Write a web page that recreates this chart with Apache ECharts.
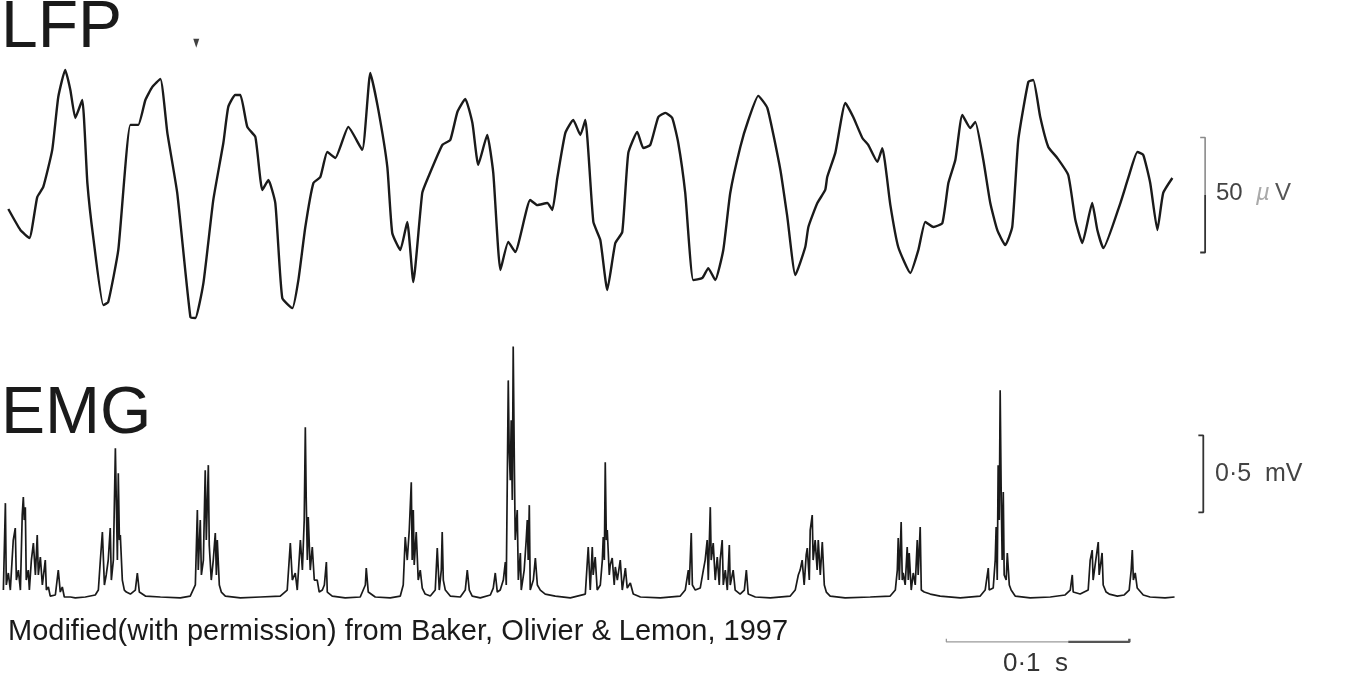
<!DOCTYPE html>
<html>
<head>
<meta charset="utf-8">
<script src="https://cdn.jsdelivr.net/npm/echarts@6/dist/echarts.min.js"></script>
<style>html,body{margin:0;padding:0;background:#fff;}#c{width:1351px;height:692px;}</style>
</head>
<body>
<div id="c"></div>
<script>
// LFP trace: [time (ms), potential (µV)]
var lfpPoints = [[0,-6.1],[6.6,-15.2],[11.5,-18.7],[15.8,-0.9],[19.1,3.5],[24.0,19.6],[27.3,42.6],[31.1,54.4],[33.9,45.7],[36.6,33.5],[40.4,41.3],[43.2,5.2],[46.4,-18.3],[51.9,-47.9],[54.6,-46.5],[60.1,-23.9],[66.7,30.5],[71.0,30.5],[74.9,41.3],[78.7,47.0],[83.1,50.5],[86.9,27.0],[92.3,0.9],[99.5,-53.1],[102.2,-53.5],[106.6,-38.3],[112.0,-2.2],[117.5,22.6],[120.2,38.3],[124.0,43.5],[126.8,43.5],[130.6,29.6],[135.0,25.2],[138.8,2.2],[142.1,6.5],[145.9,-3.5],[149.7,-44.8],[155.2,-49.2],[158.5,-37.0],[162.3,-13.9],[166.7,5.2],[170.5,7.8],[174.3,18.7],[178.7,16.1],[185.8,29.6],[193.4,19.6],[197.8,53.1],[202.2,37.0],[207.1,12.2],[209.8,-16.5],[214.2,-23.9],[218.0,-11.7],[221.3,-37.8],[226.2,0.9],[229.5,7.8],[237.2,21.8],[241.5,23.9],[245.4,36.1],[249.7,41.8],[253.6,31.3],[256.8,13.1],[261.7,26.1],[265.0,9.6],[268.9,-32.6],[273.2,-20.4],[277.0,-24.8],[285.2,-2.2],[289.1,-4.4],[294.5,-3.5],[297.3,-6.5],[300.0,7.4],[304.4,27.0],[308.7,32.6],[312.6,26.1],[315.3,32.6],[319.7,-11.7],[323.5,-19.6],[327.3,-41.3],[331.7,-20.9],[335.5,-16.1],[338.8,18.3],[343.7,27.4],[347.0,20.4],[350.8,21.8],[355.2,33.9],[359.0,35.7],[362.8,33.5],[366.1,22.6],[369.9,0.9],[374.3,-37.0],[379.2,-36.1],[382.5,-31.8],[386.3,-37.0],[390.7,-23.9],[394.5,0.9],[400.0,20.9],[404.4,32.6],[409.8,43.1],[414.8,37.8],[421.9,10.9],[425.7,-9.6],[430.1,-34.8],[435.5,-22.6],[437.2,-13.9],[442.1,-3.5],[446.4,2.2],[447.5,7.8],[451.9,18.3],[457.4,40.0],[461.7,33.9],[466.7,24.8],[469.9,21.8],[474.9,14.4],[477.6,20.4],[482.0,-4.4],[486.3,-22.6],[492.9,-33.9],[497.3,-23.9],[501.1,-11.7],[505.5,-13.9],[510.4,-12.2],[513.7,5.2],[517.5,15.2],[521.3,34.8],[525.7,29.1],[528.4,31.8],[532.8,15.2],[536.6,-3.5],[540.4,-15.2],[544.8,-21.8],[548.6,-13.9],[551.9,23.9],[557.4,49.2],[560.1,50.0],[563.9,33.9],[568.3,20.9],[573.2,16.1],[579.2,8.7],[583.1,-10.9],[586.9,-20.9],[592.3,-3.5],[595.1,-15.2],[598.4,-23.1],[607.7,-3.5],[612.0,7.4],[617.0,18.7],[620.2,17.4],[624.0,5.2],[627.9,-15.2],[631.1,0.9],[636.1,7.4]];

// Rectified EMG trace: [time (ms), amplitude (µV)]
var emgPoints = [[-2.7,45],[-1.6,610],[-1.1,78],[0,156],[1.1,45],[2.7,370],[3.8,448],[4.4,110],[5.5,175],[6.6,45],[7.6,532],[8.2,649],[8.7,500],[9.3,584],[9.8,110],[10.9,175],[11.5,45],[12.6,240],[13.7,350],[14.8,143],[15.8,402],[16.4,143],[17.5,260],[18.6,78],[20.2,240],[20.8,45],[21.9,65],[22.9,6],[25.7,13],[27.3,175],[28.4,32],[29.5,65],[30.6,0],[33.9,0],[36.6,-6],[42.1,0],[47.5,13],[49.2,45],[50.3,240],[51.4,422],[52.5,78],[53.5,143],[54.6,240],[55.7,448],[56.3,110],[57.4,240],[58.5,967],[59.0,630],[59.6,240],[60.1,805],[60.7,370],[61.2,402],[62.3,110],[63.4,45],[64.5,32],[66.7,19],[69.4,45],[70.5,156],[71.6,32],[74.9,6],[83.1,0],[94.0,-6],[99.4,6],[102.2,78],[103.3,565],[103.8,175],[104.9,500],[105.5,143],[106.6,240],[107.6,824],[108.2,370],[109.3,857],[109.8,337],[110.9,110],[112.0,240],[113.1,415],[113.7,143],[114.2,370],[115.3,78],[116.4,32],[118.6,6],[126.8,-6],[137.7,0],[148.6,6],[152.4,45],[154.1,350],[155.2,110],[156.8,156],[157.9,45],[159.6,370],[160.7,175],[161.7,500],[162.3,1103],[162.8,630],[163.4,240],[163.9,519],[165.0,175],[166.1,325],[167.2,110],[168.8,110],[169.9,32],[171.6,45],[172.7,78],[173.8,227],[174.3,32],[177.0,6],[184.1,-6],[192.3,0],[195.1,78],[195.6,188],[196.7,32],[200.5,0],[208.7,-6],[214.2,6],[215.8,78],[216.9,389],[218.0,240],[219.1,435],[220.2,746],[220.7,240],[221.3,565],[221.8,208],[222.9,422],[224.0,110],[225.1,175],[226.2,58],[227.8,19],[230.6,6],[233.3,45],[234.4,318],[235.5,45],[236.6,175],[237.1,422],[237.7,110],[238.8,45],[241.5,6],[247.0,0],[249.7,45],[250.8,175],[251.9,45],[253.5,6],[257.9,-6],[263.4,13],[265.0,58],[266.1,156],[267.2,32],[268.8,45],[270.5,110],[271.6,227],[272.1,78],[273.2,1408],[273.7,954],[274.3,759],[274.8,1149],[275.4,630],[275.9,1629],[276.5,889],[277.0,370],[278.1,565],[278.7,110],[279.8,286],[280.3,45],[281.9,175],[283.0,370],[283.6,500],[284.1,240],[284.7,597],[285.2,45],[286.9,110],[288.0,253],[289.1,78],[290.7,45],[293.4,19],[298.9,6],[307.1,-6],[315.3,19],[316.9,325],[318.0,45],[319.1,325],[319.6,143],[320.7,260],[321.8,45],[323.5,78],[324.6,240],[325.1,389],[325.7,240],[326.2,876],[326.8,370],[327.3,435],[328.4,143],[328.9,208],[330.0,253],[331.1,78],[331.7,195],[332.8,110],[334.4,240],[335.5,45],[337.2,188],[338.2,58],[339.9,91],[341.5,19],[345.4,0],[356.3,-6],[367.2,6],[369.9,45],[371.6,175],[372.1,78],[373.2,415],[373.8,78],[375.4,45],[378.1,58],[379.8,175],[380.8,240],[381.9,370],[382.5,110],[383.6,584],[384.1,240],[385.2,350],[386.3,110],[387.4,260],[388.5,78],[389.0,240],[390.1,370],[390.7,78],[391.8,175],[392.9,45],[394.0,337],[394.5,78],[396.1,175],[397.2,45],[399.9,19],[402.2,45],[403.3,175],[404.3,19],[408.2,0],[416.4,-6],[427.3,6],[430.0,45],[431.7,143],[432.7,175],[433.8,240],[434.9,78],[436.0,273],[436.6,318],[437.7,110],[438.2,435],[439.3,532],[439.8,240],[440.9,370],[442.0,175],[442.6,370],[443.7,143],[444.8,357],[445.9,78],[447.0,32],[449.1,6],[457.3,-6],[471.0,0],[481.9,6],[484.7,45],[485.8,175],[486.3,383],[486.9,110],[487.9,487],[488.5,110],[489.0,156],[490.1,78],[491.2,325],[491.8,110],[492.3,286],[493.4,45],[494.5,156],[495.6,78],[496.7,370],[497.2,143],[498.3,454],[498.9,45],[500.5,32],[503.8,19],[509.2,6],[520.2,-6],[531.1,6],[533.8,45],[535.5,188],[536.0,45],[538.2,58],[539.3,240],[539.8,454],[540.4,110],[540.9,857],[541.5,500],[542.0,1344],[542.6,630],[543.1,240],[543.7,682],[544.2,143],[545.3,110],[545.9,286],[547.0,78],[548.0,45],[550.2,6],[558.4,-6],[569.4,0],[577.5,13],[580.3,45],[581.4,143],[581.9,32],[585.7,19],[590.1,45],[591.2,240],[592.3,305],[592.8,110],[593.9,208],[595.6,357],[596.1,143],[597.2,240],[597.7,286],[598.3,78],[599.9,32],[601.6,19],[606.0,6],[609.8,13],[612.5,45],[613.6,175],[614.2,305],[614.8,110],[615.8,156],[616.9,58],[620.2,13],[623.9,0],[632.1,-6],[637.3,0]];

// Scale bars (data units)
var lfpBarTime = 654;       // ms
var lfpBarTickTime = 651.3; // ms
var lfpBarRange = [-25, 25]; // 50 µV
var emgBarTime = 653;
var emgBarTickTime = 650.3;
var emgBarRange = [550, 1050]; // 0.5 mV = 500 µV
var timeBarRange = [512.6, 612.6]; // 0.1 s = 100 ms
var timeBarSplit = 579.2;
var timeBarLevel = -292;   // µV (below EMG baseline)
var timeBarTick = 20;
var stimMarker = [[102.7, 66]]; // small arrowhead above LFP

var labels = { lfp: 'LFP', emg: 'EMG', lfpScale: '50', lfpUnitMu: 'µ', lfpUnitV: 'V', emgScale: '0·5  mV', timeScale: '0·1  s',
  caption: 'Modified(with permission) from Baker, Olivier & Lemon, 1997' };

var chart = echarts.init(document.getElementById('c'), null, {renderer: 'canvas'});

var xCommon = { type: 'value', min: -4, max: 730, show: false };

var option = {
  animation: false,
  backgroundColor: '#ffffff',
  grid: [
    { left: 1, width: 1343.2, top: 34, height: 299 },
    { left: 1, width: 1343.2, top: 304.7, height: 361.5 }
  ],
  xAxis: [
    Object.assign({ gridIndex: 0 }, xCommon),
    Object.assign({ gridIndex: 1 }, xCommon)
  ],
  yAxis: [
    { gridIndex: 0, type: 'value', min: -60, max: 70, show: false },
    { gridIndex: 1, type: 'value', min: -450, max: 1900, show: false }
  ],
  series: [
    { type: 'line', xAxisIndex: 0, yAxisIndex: 0, data: lfpPoints, showSymbol: false, smooth: 0.15,
      lineStyle: { color: '#1a1a1a', width: 2.4, join: 'round' }, silent: true },
    { type: 'line', xAxisIndex: 1, yAxisIndex: 1, data: emgPoints, showSymbol: false,
      lineStyle: { color: '#1a1a1a', width: 1.7 }, silent: true },
    // LFP scale bar: upper half light, lower half dark
    { type: 'line', xAxisIndex: 0, yAxisIndex: 0, showSymbol: false, silent: true,
      data: [[lfpBarTickTime, lfpBarRange[1]], [lfpBarTime, lfpBarRange[1]], [lfpBarTime, 0]],
      lineStyle: { color: '#8a8a8a', width: 1.6 } },
    { type: 'line', xAxisIndex: 0, yAxisIndex: 0, showSymbol: false, silent: true,
      data: [[lfpBarTime, 0], [lfpBarTime, lfpBarRange[0]], [lfpBarTickTime, lfpBarRange[0]]],
      lineStyle: { color: '#333333', width: 1.8 } },
    // EMG scale bar
    { type: 'line', xAxisIndex: 1, yAxisIndex: 1, showSymbol: false, silent: true,
      data: [[emgBarTickTime, emgBarRange[1]], [emgBarTime, emgBarRange[1]], [emgBarTime, emgBarRange[0]], [emgBarTickTime, emgBarRange[0]]],
      lineStyle: { color: '#333333', width: 1.8 } },
    // Time scale bar
    { type: 'line', xAxisIndex: 1, yAxisIndex: 1, showSymbol: false, silent: true,
      data: [[timeBarRange[0], timeBarLevel + timeBarTick], [timeBarRange[0], timeBarLevel], [timeBarSplit, timeBarLevel]],
      lineStyle: { color: '#9a9a9a', width: 1.3 } },
    { type: 'line', xAxisIndex: 1, yAxisIndex: 1, showSymbol: false, silent: true,
      data: [[timeBarSplit, timeBarLevel], [timeBarRange[1], timeBarLevel], [timeBarRange[1], timeBarLevel + timeBarTick]],
      lineStyle: { color: '#555555', width: 2.4 } },
    // small arrowhead marker
    { type: 'scatter', xAxisIndex: 0, yAxisIndex: 0, data: stimMarker, symbol: 'triangle', symbolRotate: 180,
      symbolSize: [6, 9], itemStyle: { color: '#111' }, silent: true }
  ],
  graphic: [
    { type: 'text', left: 1, top: -4, style: { text: labels.lfp, font: '66px "Liberation Sans", Arial, sans-serif', fill: '#1a1a1a' } },
    { type: 'text', left: 1, top: 382, style: { text: labels.emg, font: '66px "Liberation Sans", Arial, sans-serif', fill: '#1a1a1a' } },
    { type: 'text', left: 1216, top: 181, style: { text: labels.lfpScale, font: '24px "Liberation Sans", Arial, sans-serif', fill: '#444' } },
    { type: 'text', left: 1256, top: 181, style: { text: labels.lfpUnitMu, font: 'italic 24px "Liberation Sans", Arial, sans-serif', fill: '#aaa' } },
    { type: 'text', left: 1275, top: 181, style: { text: labels.lfpUnitV, font: '24px "Liberation Sans", Arial, sans-serif', fill: '#555' } },
    { type: 'text', left: 1215, top: 462, style: { text: labels.emgScale, font: '25px "Liberation Sans", Arial, sans-serif', fill: '#444' } },
    { type: 'text', left: 1003, top: 651, style: { text: labels.timeScale, font: '26px "Liberation Sans", Arial, sans-serif', fill: '#333' } },
    { type: 'text', left: 8, top: 617, style: { text: labels.caption, font: '29px "Liberation Sans", Arial, sans-serif', fill: '#1a1a1a' } }
  ]
};
chart.setOption(option);
</script>
</body>
</html>
